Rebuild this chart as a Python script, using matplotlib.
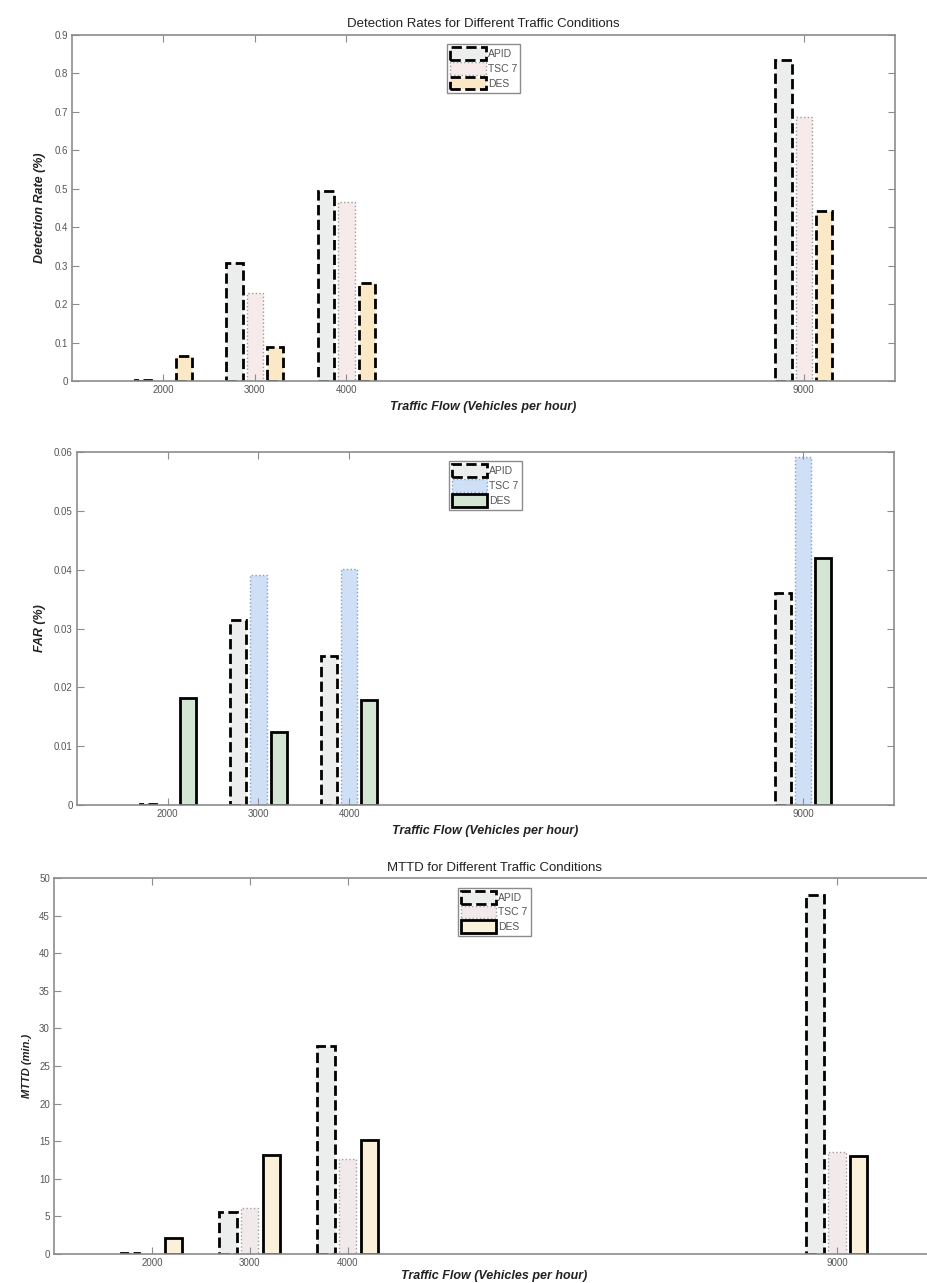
import numpy as np
import matplotlib.pyplot as plt

# traffic flow groups (vehicles per hour)
flows = [2000, 3000, 4000, 9000]
series = ['APID', 'TSC 7', 'DES']

# detection rate values
dr_apid = [0.003, 0.306, 0.494, 0.836]
dr_tsc = [0.0, 0.228, 0.467, 0.688]
dr_des = [0.066, 0.089, 0.254, 0.441]

# false alarm rate values
far_apid = [0.0001, 0.0315, 0.0254, 0.0360]
far_tsc = [0.0, 0.0391, 0.0401, 0.0591]
far_des = [0.0182, 0.0124, 0.0179, 0.0420]

# mean time to detect (min.)
mttd_apid = [0.1, 5.6, 27.6, 47.7]
mttd_tsc = [0.0, 6.1, 12.6, 13.6]
mttd_des = [2.1, 13.2, 15.1, 13.0]

plt.rcParams['font.family'] = ['Liberation Sans', 'DejaVu Sans']

GRAY = '#8c8c8c'
TXT = '#555555'


def style_axes(ax, ymax, ystep, xpad=4):
    ax.set_xlim(1000, 10000)
    ax.set_ylim(0, ymax)
    ax.set_xticks(flows)
    ax.set_xticklabels([str(f) for f in flows])
    ax.set_yticks(np.arange(0, ymax + ystep / 2, ystep))
    ax.yaxis.set_major_formatter(plt.FuncFormatter(lambda v, p: ('%g' % round(v, 4))))
    ax.tick_params(direction='in', length=5, width=0.8, color=GRAY, labelcolor=TXT,
                   labelsize=7, top=True, right=True, pad=3)
    for s in ax.spines.values():
        s.set_color(GRAY)
        s.set_linewidth(1.2)
    ax.set_xlabel('Traffic Flow (Vehicles per hour)', fontsize=9, fontweight='bold',
                  fontstyle='italic', color='#222222', labelpad=xpad)


def draw_bars(ax, vals, fills, edges, styles, widths):
    width = 178
    offsets = [-222, 0, 222]
    for v, off, fc, ec, ls, lw, name in zip(vals, offsets, fills, edges, styles, widths, series):
        ax.bar(np.array(flows) + off, v, width=width, facecolor=fc, edgecolor=ec,
               linestyle=ls, linewidth=lw, label=name)
    leg = ax.legend(loc='upper center', bbox_to_anchor=(0.5, 0.98), fontsize=7.5,
                    fancybox=False, edgecolor=GRAY, framealpha=1, handlelength=3.4,
                    handleheight=1.5, handletextpad=0.2, borderpad=0.3, labelspacing=0.2,
                    borderaxespad=0.2)
    leg.get_frame().set_linewidth(1.0)
    for t in leg.get_texts():
        t.set_color(TXT)


fig = plt.figure(figsize=(9.28, 12.83), dpi=100)

# detection rate
ax1 = fig.add_axes([0.0776, 0.703, 0.887, 0.2697])
draw_bars(ax1, [dr_apid, dr_tsc, dr_des],
          ['#eceeee', '#f6eaea', '#fae8c6'],
          ['black', '#9a9a9a', 'black'],
          ['--', ':', '--'], [2.0, 1.0, 2.0])
style_axes(ax1, 0.9, 0.1)
ax1.set_ylabel('Detection Rate (%)', fontsize=9, fontweight='bold', fontstyle='italic',
               color='#222222', labelpad=6)
ax1.set_title('Detection Rates for Different Traffic Conditions', fontsize=9.5,
              color='#222222', pad=6)

# false alarm rate
ax2 = fig.add_axes([0.083, 0.3726, 0.880, 0.275])
draw_bars(ax2, [far_apid, far_tsc, far_des],
          ['#eceeee', '#cfe0f6', '#d3e6d3'],
          ['black', '#7f9fcf', 'black'],
          ['--', ':', '-'], [2.0, 1.0, 2.0])
style_axes(ax2, 0.06, 0.01)
ax2.set_ylabel('FAR (%)', fontsize=9, fontweight='bold', fontstyle='italic',
               color='#222222', labelpad=6)

# MTTD
ax3 = fig.add_axes([0.0582, 0.0226, 0.949, 0.293])
draw_bars(ax3, [mttd_apid, mttd_tsc, mttd_des],
          ['#eceeee', '#f2eaea', '#fbf1da'],
          ['black', '#a0a0a0', 'black'],
          ['--', ':', '-'], [2.0, 1.0, 2.0])
style_axes(ax3, 50, 5, xpad=1)
ax3.set_ylabel('MTTD (min.)', fontsize=8, fontweight='bold', fontstyle='italic',
               color='#222222', labelpad=5)
ax3.set_title('MTTD for Different Traffic Conditions', fontsize=9.5, color='#222222', pad=5)

plt.savefig('out.png', dpi=100)
plt.close()
